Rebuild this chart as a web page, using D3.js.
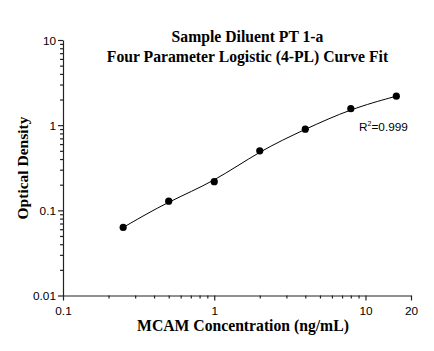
<!DOCTYPE html>
<html>
<head>
<meta charset="utf-8">
<script src="https://cdn.jsdelivr.net/npm/d3@7"></script>
<style>
  body { margin: 0; background: #fff; }
  .tick-label { font-family: "Liberation Sans", Arial, sans-serif; font-size: 11.8px; fill: #000; }
  .title { font-family: "Liberation Serif", "Times New Roman", serif; font-weight: bold; fill: #000; }
</style>
</head>
<body>
<svg id="chart" width="434" height="351"></svg>
<script>
// concentrations (ng/mL) and measured optical density
var conc = [0.25, 0.5, 1, 2, 4, 8, 16];
var od = [0.063, 0.128, 0.217, 0.5, 0.897, 1.56, 2.19];

var xTicks = [0.1, 1, 10, 20];
var xMinor = [0.2, 0.3, 0.4, 0.5, 0.6, 0.7, 0.8, 0.9, 2, 3, 4, 5, 6, 7, 8, 9];
var yTicks = [0.01, 0.1, 1, 10];
var yMinor = [0.02, 0.03, 0.04, 0.05, 0.06, 0.07, 0.08, 0.09,
    0.2, 0.3, 0.4, 0.5, 0.6, 0.7, 0.8, 0.9,
    2, 3, 4, 5, 6, 7, 8, 9];

var titleLines = ["Sample Diluent PT 1-a", "Four Parameter Logistic (4-PL) Curve Fit"];

var svg = d3.select("#chart");

var x = d3.scaleLog().domain([0.1, 20]).range([63, 411]);
var y = d3.scaleLog().domain([0.01, 10]).range([295.5, 40]);

// x axis (major + minor)
svg.append("g")
    .attr("transform", "translate(0,295.5)")
    .call(d3.axisBottom(x).tickValues(xMinor).tickSize(3).tickFormat(""))
    .call(g => g.select(".domain").remove());
var xAx = svg.append("g")
    .attr("transform", "translate(0,295.5)")
    .call(d3.axisBottom(x).tickValues(xTicks).tickSize(5).tickSizeOuter(0).tickFormat(d => d));
xAx.selectAll("text").attr("class", "tick-label").attr("dy", null).attr("y", 19);

// y axis
svg.append("g")
    .attr("transform", "translate(63,0)")
    .call(d3.axisLeft(y).tickValues(yMinor).tickSize(3).tickFormat(""))
    .call(g => g.select(".domain").remove());
var yAx = svg.append("g")
    .attr("transform", "translate(63,0)")
    .call(d3.axisLeft(y).tickValues(yTicks).tickSize(5).tickSizeOuter(0).tickFormat(d => d));
yAx.selectAll("text").attr("class", "tick-label").attr("dy", "0.35em").attr("x", -7);

svg.selectAll(".domain, .tick line").attr("stroke", "#222").attr("stroke-width", 1.2);
svg.selectAll(".tick text").attr("font-family", null).attr("font-size", null);

// fitted curve (smoothed through the points)
var line = d3.line()
    .x((d, i) => x(conc[i]))
    .y(d => y(d))
    .curve(d3.curveBasis);

svg.append("path")
    .datum(od)
    .attr("d", line)
    .attr("fill", "none")
    .attr("stroke", "#000")
    .attr("stroke-width", 1);

svg.append("g").selectAll("circle")
    .data(od)
    .enter().append("circle")
    .attr("cx", (d, i) => x(conc[i]))
    .attr("cy", d => y(d))
    .attr("r", 3.6)
    .attr("fill", "#000");

// titles
svg.append("g").selectAll("text")
    .data(titleLines)
    .enter().append("text")
    .attr("class", "title")
    .attr("x", 247.5)
    .attr("y", (d, i) => 42 + i * 20)
    .attr("text-anchor", "middle")
    .style("font-size", "15.7px")
    .text(d => d);

svg.append("text")
    .attr("class", "title")
    .attr("x", 243)
    .attr("y", 331)
    .attr("text-anchor", "middle")
    .style("font-size", "15.7px")
    .text("MCAM Concentration (ng/mL)");

svg.append("text")
    .attr("class", "title")
    .attr("transform", "translate(28,168) rotate(-90)")
    .attr("text-anchor", "middle")
    .style("font-size", "15.5px")
    .text("Optical Density");

// R squared
var r2 = svg.append("text")
    .attr("class", "tick-label")
    .attr("x", 359)
    .attr("y", 131);
r2.append("tspan").text("R");
r2.append("tspan").attr("dy", -5).style("font-size", "7px").text("2");
r2.append("tspan").attr("dy", 5).text("=0.999");
</script>
</body>
</html>
